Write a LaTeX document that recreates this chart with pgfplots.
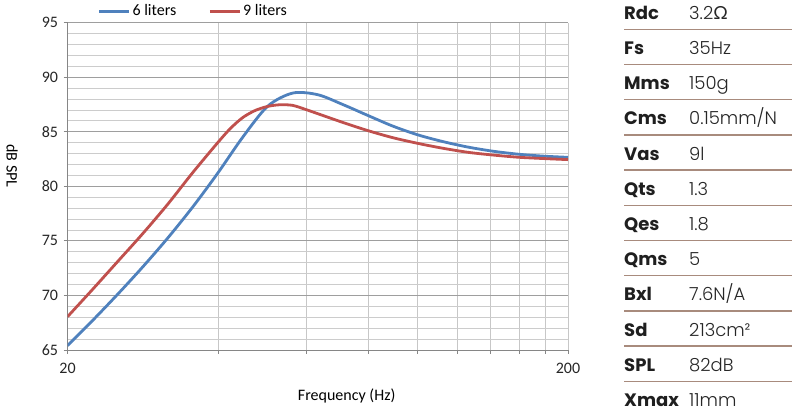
\documentclass[border=0pt]{standalone}
\usepackage{pgfplots}
\pgfplotsset{compat=1.18}
\usepackage{fontspec}
\setmainfont{Carlito}
\newfontfamily\pop{Poppins}
\newfontfamily\popl{Poppins}[UprightFont=* Light]
\newfontfamily\lato{Lato}
\definecolor{bl}{HTML}{4F81BD}
\definecolor{rd}{HTML}{C0504D}
\definecolor{sep}{HTML}{A88B7D}
\definecolor{axgray}{HTML}{868686}
\newcommand{\cf}{\fontsize{16}{19}\selectfont}
\begin{document}
\begin{tikzpicture}[x=1pt,y=1pt]
\useasboundingbox (0,0) rectangle (792,414);
\begin{axis}[
  at={(67.5pt,64pt)}, anchor=south west,
  scale only axis, width=500.5pt, height=327.3pt,
  xmode=log, xmin=20, xmax=200, ymin=65, ymax=95,
  xtick={20,40,60,80,100,120,140,160,180,200},
  xticklabels={20,,,,,,,,,200},
  ytick={65,70,75,80,85,90,95},
  minor ytick={66,67,68,69,71,72,73,74,76,77,78,79,81,82,83,84,86,87,88,89,91,92,93,94},
  grid=both,
  major x grid style={color=black!22, line width=0.8pt},
  major y grid style={color=black!38, line width=0.8pt},
  minor y grid style={color=black!20, line width=0.8pt},
  axis x line*=bottom, axis y line*=left,
  axis line style={color=axgray, line width=0.8pt},
  tick style={color=axgray, line width=0.8pt},
  tick align=outside, major tick length=4pt, minor tick length=0pt,
  tick label style={font=\cf, text=black!85},
  /pgf/number format/assume math mode=true,
  xticklabel style={yshift=-6pt},
  yticklabel style={xshift=-2pt},
  legend style={at={(0.2515,1)}, anchor=south, yshift=3pt, draw=none, fill=none,
    legend columns=2, font=\cf, inner sep=0pt,
    /tikz/every even column/.append style={column sep=30pt}},
  legend image code/.code={\draw[#1] (0pt,0pt) -- (30pt,0pt);},
]
\addplot[bl, line width=2.8pt, smooth, tension=0.5] table {
20 65.4
22.44 67.7
25.18 70.1
28.25 72.6
31.70 75.25
35.57 78.1
39.91 81.2
44.77 84.5
50.24 87.35
56.37 88.55
63.25 88.4
70.96 87.5
79.62 86.5
89.34 85.52
100.2 84.72
112.5 84.1
126.2 83.6
141.6 83.22
158.9 82.95
178.3 82.77
200 82.66
};
\addlegendentry{6 liters}
\addplot[rd, line width=2.8pt, smooth, tension=0.5] table {
20 68.05
22.44 70.55
25.18 73.1
28.25 75.65
31.70 78.35
35.57 81.25
39.91 84.0
42.3 85.3
44.77 86.3
47.4 86.95
50.24 87.33
53.2 87.48
56.37 87.42
59.7 87.06
63.25 86.66
70.96 85.86
79.62 85.11
89.34 84.46
100.2 83.94
112.5 83.49
126.2 83.12
141.6 82.87
158.9 82.67
178.3 82.55
200 82.45
};
\addlegendentry{9 liters}
\end{axis}
\node[rotate=-90, font=\cf] at (12,248) {dB SPL};
\node[font=\cf] at (346.7,18) {Frequency (Hz)};
\foreach \lab/\val [count=\i from 0] in {Rdc/{3.2{\lato Ω}}, Fs/35Hz, Mms/150g, Cms/0.15mm\slash N, Vas/9l, Qts/1.3, Qes/1.8, Qms/5, Bxl/7.6N\slash A, Sd/213cm², SPL/82dB, Xmax/11mm}{
  \node[anchor=base west, inner sep=0pt, font=\pop\bfseries\fontsize{18}{20}\selectfont, text=black!88] at (624, 394.7-35.2*\i) {\lab};
  \node[anchor=base west, inner sep=0pt, font=\popl\fontsize{18}{20}\selectfont, text=black!85] at (689, 394.7-35.2*\i) {\val};
}
\foreach \i in {0,...,10}{
  \draw[sep, line width=1.4pt] (624, 384.7-35.2*\i) -- (792, 384.7-35.2*\i);
}
\end{tikzpicture}
\end{document}
